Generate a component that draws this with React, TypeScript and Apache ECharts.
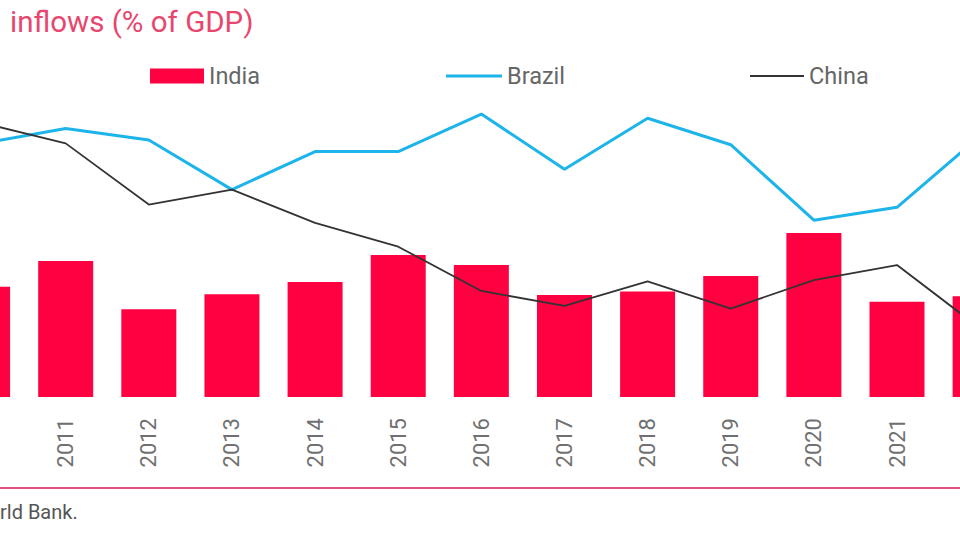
import React, { useEffect, useRef } from "react";
import * as echarts from "echarts";

const years = ["2010", "2011", "2012", "2013", "2014", "2015", "2016", "2017", "2018", "2019", "2020", "2021", "2022"];
const india = [1.62, 2.0, 1.29, 1.51, 1.69, 2.09, 1.94, 1.5, 1.55, 1.78, 2.41, 1.4, 1.48];
const brazil = [3.73, 3.95, 3.78, 3.05, 3.61, 3.61, 4.16, 3.35, 4.1, 3.71, 2.6, 2.79, 3.84];
const china = [4.03, 3.73, 2.83, 3.05, 2.56, 2.21, 1.56, 1.34, 1.7, 1.3, 1.72, 1.94, 1.01];

const titleText = "inflows (% of GDP)";
const sourceText = "rld Bank.";

const FONT = "Roboto, 'Noto Sans', sans-serif";
const OFF = 100; // hidden margin on the left of the visible window

export default function App() {
  const ref = useRef<HTMLDivElement>(null);
  useEffect(() => {
    if (!ref.current) return;
    const chart = echarts.init(ref.current, undefined, { renderer: "svg" });
    const legendText = { color: "#666666", fontSize: 23.5, fontFamily: FONT };
    chart.setOption({
      animation: false,
      backgroundColor: "#ffffff",
      grid: { left: OFF - 59, width: 1080.7, top: 57, bottom: 143, containLabel: false },
      legend: [
        { data: ["India"], left: OFF + 150, top: 64, padding: 0, icon: "rect", itemWidth: 54, itemHeight: 15, itemGap: 0, textStyle: legendText },
        { data: ["Brazil"], left: OFF + 446, top: 64, padding: 0, icon: "rect", itemWidth: 56, itemHeight: 3, itemGap: 0, textStyle: legendText },
        { data: ["China"], left: OFF + 750, top: 64, padding: 0, icon: "rect", itemWidth: 54, itemHeight: 2, itemGap: 0, textStyle: legendText },
      ],
      xAxis: {
        type: "category",
        data: years,
        boundaryGap: true,
        axisLine: { show: false },
        axisTick: { show: false },
        axisLabel: {
          rotate: 90,
          margin: 21,
          fontSize: 22,
          color: "#707070",
          fontFamily: FONT,
          interval: (i: number) => i > 0 && i < years.length - 1,
        },
      },
      yAxis: { type: "value", min: 0, max: 5, show: false, splitLine: { show: false } },
      series: [
        { name: "India", type: "bar", data: india, barWidth: 55, itemStyle: { color: "#FF0040" } },
        { name: "Brazil", type: "line", data: brazil, symbol: "none", lineStyle: { color: "#1DB4EA", width: 3 }, itemStyle: { color: "#1DB4EA" } },
        { name: "China", type: "line", data: china, symbol: "none", lineStyle: { color: "#333333", width: 1.8 }, itemStyle: { color: "#333333" } },
      ],
      graphic: [
        { type: "text", left: OFF + 10, top: 7, style: { text: titleText, fill: "#E8466E", font: `400 29.5px ${FONT}` } },
        { type: "line", shape: { x1: OFF, y1: 488, x2: OFF + 960, y2: 488 }, style: { stroke: "#E0507A", lineWidth: 2 } },
        { type: "text", left: OFF, top: 502, style: { text: sourceText, fill: "#555555", font: `20px ${FONT}` } },
      ],
    });
    return () => chart.dispose();
  }, []);
  return (
    <div style={{ position: "absolute", left: 0, top: 0, width: 960, height: 540, overflow: "hidden" }}>
      <div ref={ref} style={{ position: "absolute", left: -OFF, top: 0, width: 1200, height: 540 }} />
    </div>
  );
}
